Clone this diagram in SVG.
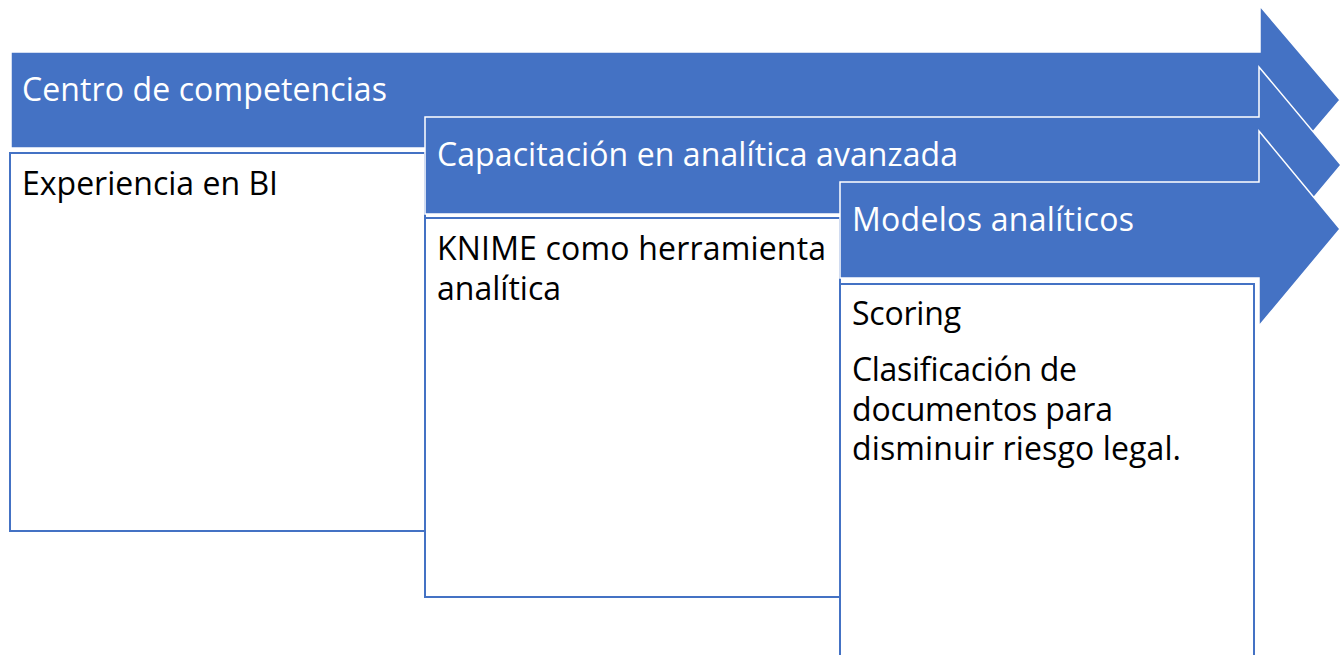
<svg xmlns="http://www.w3.org/2000/svg" width="1340" height="655" viewBox="0 0 1340 655">
<style>
.arrow{fill:#4472C4;stroke:#FFFFFF;stroke-width:1.5}
.box{fill:#FFFFFF;stroke:#4472C4;stroke-width:2}
.h{font-family:"Open Sans","Liberation Sans",sans-serif;font-size:32px;fill:#FFFFFF}
.t{font-family:"Open Sans","Liberation Sans",sans-serif;font-size:32px;fill:#000000}
</style>
<rect x="0" y="0" width="1340" height="655" fill="#FFFFFF"/>
<g id="arrow1">
<polygon class="arrow" points="11,52 1260,52 1260,6 1340,100 1260,194 1260,148 11,148"/>
<text class="h" x="22" y="101" textLength="365">Centro de competencias</text>
</g>
<g id="box1">
<rect class="box" x="10" y="153" width="415" height="378"/>
<text class="t" x="22" y="195" textLength="256">Experiencia en BI</text>
</g>
<g id="arrow2">
<polygon class="arrow" points="425,117 1259,117 1259,67 1341,165 1259,263 1259,214 425,214"/>
<text class="h" x="437" y="166" textLength="521">Capacitación en analítica avanzada</text>
</g>
<g id="box2">
<rect class="box" x="425" y="218" width="415" height="379"/>
<text class="t" x="437" y="260" textLength="389">KNIME como herramienta</text>
<text class="t" x="437" y="300" textLength="124">analítica</text>
</g>
<g id="arrow3">
<polygon class="arrow" points="840,182 1259,182 1259,131 1340,229 1259,326 1259,278 840,278"/>
<text class="h" x="852" y="231" textLength="282">Modelos analíticos</text>
</g>
<g id="box3">
<rect class="box" x="840" y="284" width="414" height="400"/>
<text class="t" x="852" y="325" textLength="109">Scoring</text>
<text class="t" x="852" y="381" textLength="225">Clasificación de</text>
<text class="t" x="852" y="421" textLength="261">documentos para</text>
<text class="t" x="852" y="460" textLength="329">disminuir riesgo legal.</text>
</g>
<g id="connectors"></g>
</svg>
